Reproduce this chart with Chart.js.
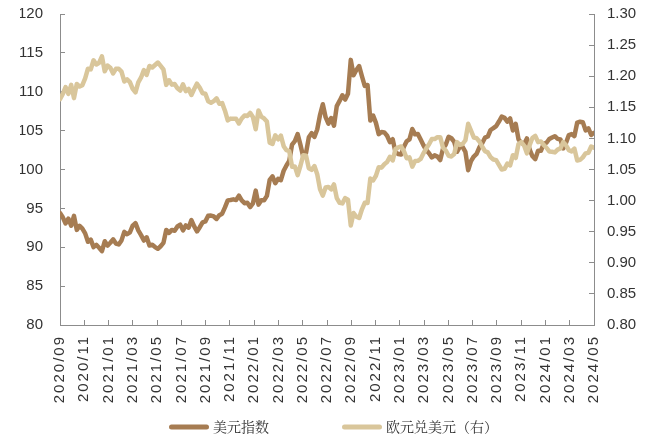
<!DOCTYPE html>
<html>
<head>
<meta charset="utf-8">
<script src="https://cdn.jsdelivr.net/npm/chart.js@4.4.1/dist/chart.umd.min.js"></script>
<style>
  html, body { margin: 0; padding: 0; background: #ffffff; }
  canvas { display: block; }
</style>
</head>
<body>
<canvas id="fx" width="653" height="436"></canvas>
<script>
// Axis labels along the bottom (every two months)
const tickLabels = [
  '2020/09', '2020/11', '2021/01', '2021/03', '2021/05', '2021/07', '2021/09', '2021/11',
  '2022/01', '2022/03', '2022/05', '2022/07', '2022/09', '2022/11', '2023/01', '2023/03',
  '2023/05', '2023/07', '2023/09', '2023/11', '2024/01', '2024/03', '2024/05'
];

const seriesNames = ['美元指数', '欧元兑美元（右）'];

// US dollar index, weekly observations
const usdIndex = [
  94.40, 93.85, 93.06, 93.68, 92.77, 94.04, 92.23, 92.76, 92.39, 91.79, 90.70, 90.98, 90.02, 90.30, 89.94,
  89.50, 90.77, 90.22, 90.58, 91.02, 90.48, 90.36, 90.88, 91.98, 91.67, 91.92, 92.77, 93.10, 92.17, 91.56, 90.86,
  91.28, 90.23, 90.32, 90.02, 89.80, 90.13, 90.56, 92.23, 91.85, 92.23, 92.12, 92.68, 92.91, 92.17, 92.80, 92.52,
  93.50, 92.68, 92.04, 92.58, 93.20, 93.33, 94.04, 94.08, 93.96, 93.64, 94.12, 94.32, 95.12, 96.03, 96.08, 96.16,
  96.08, 96.64, 96.03, 95.67,
  95.72, 95.17, 95.64, 97.28, 95.48, 96.05, 96.04, 96.61, 98.66, 99.12, 98.23, 98.80, 98.62, 99.84, 100.52, 101.12,
  103.20, 103.66, 104.56, 103.16, 101.65, 102.14, 104.14, 104.67, 104.20, 105.14, 107.01, 108.40, 106.73, 105.90,
  106.61, 105.63, 108.16, 108.82, 109.54, 108.99, 109.73, 114.10, 112.12, 112.79, 113.31, 111.99, 110.76, 110.87,
  106.29, 106.94, 106.00, 104.55, 104.82, 104.77, 104.34, 103.52,
  103.89, 102.20, 101.99, 101.92, 102.92, 103.63, 103.88, 105.21, 104.52, 104.58, 103.86, 103.12, 102.51, 102.09,
  101.55, 101.82, 101.66, 101.21, 102.70, 103.20, 104.21, 104.02, 103.56, 102.28, 102.90, 102.91, 102.27, 99.91,
  101.07, 101.67, 102.02, 102.85, 103.38, 104.09, 104.24, 105.08, 105.32, 105.58, 106.17, 106.80, 106.65, 106.16,
  106.56, 105.02, 105.87, 103.87, 103.42, 103.27, 104.00, 102.55, 101.70, 101.33,
  102.42, 102.40, 103.29, 103.44, 103.92, 104.11, 104.28, 103.94, 103.86, 102.71, 103.43, 104.43, 104.55, 104.30,
  106.04, 106.15, 106.09, 105.03, 105.30, 104.45, 104.72
];

// EUR/USD, weekly observations (right axis)
const eurUsd = [
  1.1632, 1.1715, 1.1826, 1.1717, 1.1860, 1.1647, 1.1876, 1.1834, 1.1856, 1.1964, 1.2120, 1.2110, 1.2256, 1.2188, 1.2216,
  1.2320, 1.2078, 1.2170, 1.2136, 1.2045, 1.2118, 1.2120, 1.2075, 1.1915, 1.1950, 1.1905, 1.1795, 1.1740, 1.1900,
  1.1980, 1.2097, 1.2020, 1.2165, 1.2140, 1.2180, 1.2220, 1.2165, 1.2108, 1.1860, 1.1935, 1.1864, 1.1875, 1.1806,
  1.1770, 1.1870, 1.1761, 1.1795, 1.1698, 1.1795, 1.1880, 1.1814, 1.1726, 1.1718, 1.1596, 1.1573, 1.1600, 1.1645,
  1.1558, 1.1567, 1.1445, 1.1290, 1.1318, 1.1315, 1.1315, 1.1240, 1.1320, 1.1370,
  1.1360, 1.1410, 1.1345, 1.1148, 1.1450, 1.1350, 1.1320, 1.1270, 1.0930, 1.0910, 1.1050, 1.0985, 1.1045, 1.0875,
  1.0810, 1.0795, 1.0545, 1.0550, 1.0410, 1.0560, 1.0730, 1.0720, 1.0520, 1.0495, 1.0555, 1.0425, 1.0185, 1.0080,
  1.0210, 1.0220, 1.0180, 1.0260, 1.0040, 0.9965, 0.9955, 1.0040, 1.0015, 0.9600, 0.9800, 0.9740, 0.9720, 0.9860,
  0.9965, 0.9960, 1.0355, 1.0325, 1.0400, 1.0535, 1.0530, 1.0585, 1.0620, 1.0705,
  1.0645, 1.0830, 1.0855, 1.0870, 1.0795, 1.0680, 1.0695, 1.0545, 1.0635, 1.0640, 1.0670, 1.0760, 1.0840, 1.0905,
  1.0990, 1.0990, 1.1020, 1.1020, 1.0850, 1.0805, 1.0720, 1.0710, 1.0750, 1.0940, 1.0895, 1.0910, 1.0970, 1.1235,
  1.1125, 1.1015, 1.1005, 1.0950, 1.0870, 1.0795, 1.0775, 1.0700, 1.0660, 1.0650, 1.0575, 1.0500, 1.0510, 1.0595,
  1.0565, 1.0730, 1.0685, 1.0910, 1.0940, 1.0885, 1.0760, 1.0895, 1.1010, 1.1040,
  1.0940, 1.0950, 1.0895, 1.0850, 1.0790, 1.0785, 1.0775, 1.0820, 1.0840, 1.0940, 1.0890, 1.0810, 1.0790, 1.0835,
  1.0645, 1.0655, 1.0695, 1.0760, 1.0770, 1.0870, 1.0850
];

const DARK = '#a67c52';
const LIGHT = '#d9c69b';
const AXIS = '#8c8c8c';
const TEXT = '#333333';
const lastIndex = usdIndex.length - 1;
const tickFont = { family: "'Liberation Sans', Arial, sans-serif", size: 15 };
const legendFont = "14px 'Noto Serif CJK SC', 'Noto Sans CJK SC', serif";

const toPoints = arr => arr.map((v, i) => ({ x: i, y: v }));

// Spread the rotated date labels a little along their length
const spacedDateLabels = {
  id: 'spacedDateLabels',
  beforeDraw(chart) {
    const sx = chart.scales.x;
    if (sx && !sx._spaced) {
      const base = sx.drawLabels;
      sx.drawLabels = function (area) {
        const c = this.ctx;
        c.save();
        c.letterSpacing = '2px';
        base.call(this, area);
        c.restore();
      };
      sx._spaced = true;
    }
  }
};

// Legend row under the axis: a short thick line sample followed by the series name
const lineLegend = {
  id: 'lineLegend',
  afterDraw(chart) {
    const ctx = chart.ctx;
    const sample = 40, gapText = 4, gapItems = 73, y = 427;
    ctx.save();
    ctx.font = legendFont;
    ctx.textBaseline = 'middle';
    ctx.textAlign = 'left';
    const items = chart.data.datasets.map(ds => ({ ds, w: ctx.measureText(ds.label).width }));
    const total = items.reduce((s, it) => s + sample + gapText + it.w, 0) + gapItems * (items.length - 1);
    let x = (chart.width - total) / 2 + 7;
    items.forEach(({ ds, w }) => {
      ctx.strokeStyle = ds.borderColor;
      ctx.lineWidth = 5;
      ctx.lineCap = 'round';
      ctx.beginPath();
      ctx.moveTo(x + 2.5, y);
      ctx.lineTo(x + sample - 2.5, y);
      ctx.stroke();
      ctx.fillStyle = TEXT;
      ctx.fillText(ds.label, x + sample + gapText, y);
      x += sample + gapText + w + gapItems;
    });
    ctx.restore();
  }
};

new Chart(document.getElementById('fx'), {
  type: 'line',
  data: {
    datasets: [
      {
        label: seriesNames[0],
        data: toPoints(usdIndex),
        yAxisID: 'y',
        borderColor: DARK,
        backgroundColor: DARK,
        borderWidth: 4.5,
        pointRadius: 0,
        tension: 0,
        borderJoinStyle: 'round',
        borderCapStyle: 'round',
        order: 1
      },
      {
        label: seriesNames[1],
        data: toPoints(eurUsd),
        yAxisID: 'y1',
        borderColor: LIGHT,
        backgroundColor: LIGHT,
        borderWidth: 4.5,
        pointRadius: 0,
        tension: 0,
        borderJoinStyle: 'round',
        borderCapStyle: 'round',
        order: 0
      }
    ]
  },
  plugins: [spacedDateLabels, lineLegend],
  options: {
    responsive: false,
    animation: false,
    devicePixelRatio: 1,
    layout: { padding: { left: 20, right: 0, top: 14, bottom: 0 } },
    plugins: {
      tooltip: { enabled: false },
      legend: { display: false }
    },
    scales: {
      x: {
        type: 'linear',
        min: 0,
        max: lastIndex,
        afterBuildTicks: scale => {
          scale.ticks = tickLabels.map((_, k) => ({ value: k * lastIndex / (tickLabels.length - 1) }));
        },
        afterFit: scale => { scale.height = 111; },
        ticks: {
          autoSkip: false,
          minRotation: 90,
          maxRotation: 90,
          padding: 15,
          color: TEXT,
          font: tickFont,
          callback: (value, index) => tickLabels[index]
        },
        grid: { drawOnChartArea: false, tickLength: -5, color: AXIS },
        border: { color: AXIS, width: 1 }
      },
      y: {
        position: 'left',
        min: 80,
        max: 120,
        afterFit: scale => { scale.width = 40; scale.paddingTop = 9; scale.paddingBottom = 9; },
        ticks: { stepSize: 5, padding: 22, color: TEXT, font: tickFont },
        grid: { drawOnChartArea: false, tickLength: -5, color: AXIS },
        border: { color: AXIS, width: 1 }
      },
      y1: {
        position: 'right',
        min: 0.8,
        max: 1.3,
        afterFit: scale => { scale.width = 59; scale.paddingTop = 9; scale.paddingBottom = 9; },
        ticks: {
          stepSize: 0.05,
          padding: 18,
          color: TEXT,
          font: tickFont,
          callback: value => value.toFixed(2)
        },
        grid: { drawOnChartArea: false, tickLength: -5, color: AXIS },
        border: { color: AXIS, width: 1 }
      }
    }
  }
});
</script>
</body>
</html>
